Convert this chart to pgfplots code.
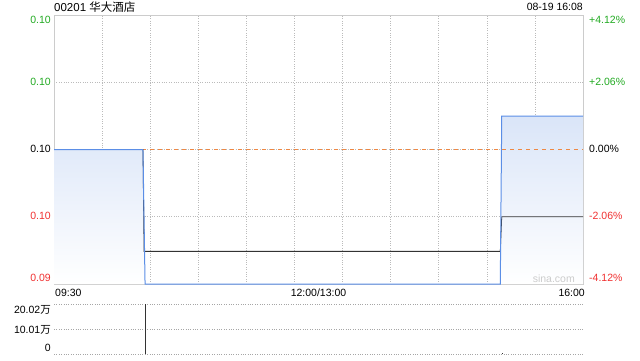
\documentclass[border=0pt]{standalone}
\usepackage{fontspec}
\setmainfont{Liberation Sans}
\newfontfamily\cjk{Noto Sans CJK SC}
\usepackage{pgfplots}
\pgfplotsset{compat=1.18}
\definecolor{upg}{HTML}{22AA22}
\definecolor{dnr}{HTML}{F03030}
\definecolor{pline}{HTML}{5B8EE6}
\definecolor{avgl}{HTML}{333333}
\definecolor{zl}{HTML}{EE8844}
\definecolor{gridc}{HTML}{CCCCCC}
\definecolor{gridd}{HTML}{BBBBBB}
\definecolor{fillc}{HTML}{DAE5F8}
\newcommand\lab{\fontsize{10.5bp}{12bp}\selectfont}
\begin{document}
\begin{tikzpicture}[x=1bp,y=1bp]
\useasboundingbox (0,0) rectangle (640,360);
% main price axis
\begin{axis}[at={(54bp,345bp)}, anchor=north west, width=529bp, height=269bp, scale only axis,
  xmin=0, xmax=330, ymin=0, ymax=8.24,
  xtick={30,60,...,300}, ytick={2.06,4.12,6.18},
  xticklabels={}, yticklabels={},
  grid=major, grid style={dotted, gridd, line width=0.6bp},
  axis line style={gridc, line width=0.8bp}, tick style={draw=none}]
\addplot[draw=none, top color=fillc, bottom color=white] coordinates {
(0,4.12) (55.5,4.12) (56.8,0) (278.4,0) (279.3,5.14) (330,5.14)} \closedcycle;
\addplot[zl, line width=0.8bp, dash pattern=on 4bp off 4bp] coordinates {(0,4.12) (330,4.12)};
\addplot[avgl, line width=0.8bp] coordinates {
(0,4.12) (55.5,4.12) (56.2,1.0) (278.4,1.0) (279.3,2.06) (330,2.06)};
\addplot[pline, line width=1bp] coordinates {
(0,4.12) (55.5,4.12) (56.8,0) (278.4,0) (279.3,5.14) (330,5.14)};
\end{axis}
% volume axis
\begin{axis}[at={(54bp,56bp)}, anchor=north west, width=530bp, height=50bp, scale only axis,
  xmin=0, xmax=330, ymin=0, ymax=20.02,
  xtick=\empty, ytick={0,10.01,20.02}, yticklabels={},
  extra x ticks={0,330}, extra x tick labels={},
  extra x tick style={grid style={solid, gridc, line width=0.8bp}},
  ymajorgrids, grid style={dotted, gray!70, line width=0.6bp},
  axis line style={draw=none}, tick style={draw=none}]
\addplot[ycomb, avgl, line width=0.8bp, mark=none] coordinates {(57,20.02) (279,0.3)};
\end{axis}
% texts
\node[anchor=west, inner sep=0] at (54,353) {\fontsize{11.5bp}{13bp}\selectfont 00201 {\cjk 华大酒店}};
\node[anchor=east, inner sep=0] at (583,353) {\lab 08-19 16:08};
\node[anchor=east, inner sep=0, text=upg] at (51,340) {\lab 0.10};
\node[anchor=east, inner sep=0, text=upg] at (51,278) {\lab 0.10};
\node[anchor=east, inner sep=0, text=black] at (51,211) {\lab 0.10};
\node[anchor=east, inner sep=0, text=dnr] at (51,144) {\lab 0.10};
\node[anchor=east, inner sep=0, text=dnr] at (51,82) {\lab 0.09};
\node[anchor=west, inner sep=0, text=upg] at (589,340) {\lab +4.12\%};
\node[anchor=west, inner sep=0, text=upg] at (589,278) {\lab +2.06\%};
\node[anchor=west, inner sep=0, text=black] at (589,211) {\lab 0.00\%};
\node[anchor=west, inner sep=0, text=dnr] at (589,144) {\lab -2.06\%};
\node[anchor=west, inner sep=0, text=dnr] at (589,82) {\lab -4.12\%};
\node[anchor=east, inner sep=0, text=gray!40] at (575,81) {\lab sina.com};
\node[anchor=west, inner sep=0] at (55,67) {\lab 09:30};
\node[anchor=center, inner sep=0] at (318.5,67) {\lab 12:00/13:00};
\node[anchor=east, inner sep=0] at (585,67) {\lab 16:00};
\node[anchor=east, inner sep=0] at (51,50) {\lab 20.02{\cjk 万}};
\node[anchor=east, inner sep=0] at (51,30) {\lab 10.01{\cjk 万}};
\node[anchor=east, inner sep=0] at (51,12) {\lab 0};
\end{tikzpicture}
\end{document}
